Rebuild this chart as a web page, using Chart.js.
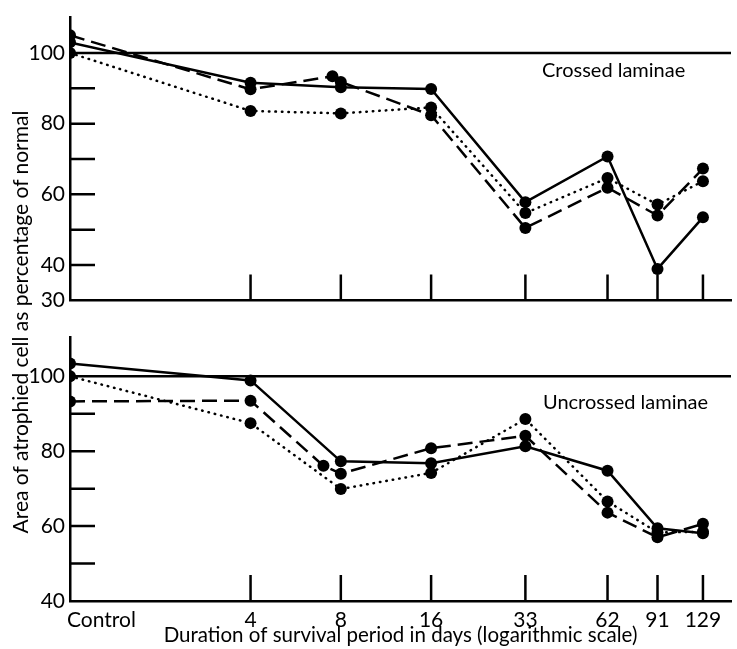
<!DOCTYPE html>
<html>
<head>
<meta charset="utf-8">
<script src="https://cdn.jsdelivr.net/npm/chart.js@4.4.1/dist/chart.umd.min.js"></script>
<style>
  body { margin: 0; background: #fff; }
  #wrap { position: relative; width: 737px; height: 649px; font-family: Lato, sans-serif; color: #000; }
  canvas { position: absolute; left: 0; }
  #topChart { top: 0; }
  #bottomChart { top: 318px; }
  .yTitle {
    position: absolute; left: -230px; top: 310px; width: 500px; line-height: 24px;
    text-align: center; font-size: 21px; transform: rotate(-90deg);
  }
  .panel { position: absolute; font-size: 20px; line-height: 24px; }
</style>
</head>
<body>
<div id="wrap">
  <canvas id="topChart" width="737" height="318"></canvas>
  <canvas id="bottomChart" width="737" height="331"></canvas>
  <div class="yTitle">Area of atrophied cell as percentage of normal</div>
  <div class="panel" style="left:542px; top:57px;">Crossed laminae</div>
  <div class="panel" style="left:543px; top:389px;">Uncrossed laminae</div>
</div>
<script>
// survival period in days, Control is put at day 1 on the log axis
const days = [1, 4, 8, 16, 33, 62, 91, 129];
const dayLabels = ['Control', '4', '8', '16', '33', '62', '91', '129'];

// crossed laminae (top)
const crossedSolid = [103, 91.6, 90.3, 89.8, 57.8, 70.7, 38.9, 53.5];
const crossedDashedDays = [1, 4, 7.5, 8, 16, 33, 62, 91, 129];
const crossedDashed = [105, 89.7, 93.4, 91.8, 82.4, 50.5, 61.9, 54.0, 67.3];
const crossedDotted = [100, 83.6, 82.9, 84.6, 54.7, 64.6, 57.1, 63.7];

// uncrossed laminae (bottom)
const uncrossedSolid = [103.4, 98.9, 77.3, 76.8, 81.3, 74.8, 59.4, 58.1];
const uncrossedDashedDays = [1, 4, 7, 8, 16, 33, 62, 91, 129];
const uncrossedDashed = [93.3, 93.5, 76.1, 74.0, 80.8, 84.1, 63.6, 57.0, 60.6];
const uncrossedDotted = [100, 87.5, 69.9, 74.2, 88.6, 66.6, 58.3, 58.5];

const FONT = 'Lato, sans-serif';

const pts = (xs, ys) => ys.map((v, i) => ({x: xs[i], y: v}));

function series(xs, ys, dash, cap) {
  return {
    data: pts(xs, ys),
    borderColor: '#000',
    borderWidth: 2.5,
    borderDash: dash,
    borderCapStyle: cap || 'butt',
    pointRadius: 6,
    pointBackgroundColor: '#000',
    pointBorderWidth: 0,
    tension: 0,
  };
}

// ticks drawn inside the frame, the 100% line and the day labels
const frame = {
  id: 'frame',
  beforeDatasetsDraw(chart, args, opts) {
    const {ctx, chartArea: a, scales: {x, y}} = chart;
    ctx.save();
    ctx.strokeStyle = '#000';
    ctx.lineWidth = 2.5;
    ctx.beginPath();
    const y100 = y.getPixelForValue(100);
    ctx.moveTo(a.left, y100);
    ctx.lineTo(a.right, y100);
    opts.yTicks.forEach(v => {
      const py = y.getPixelForValue(v);
      ctx.moveTo(a.left, py);
      ctx.lineTo(a.left + 25, py);
    });
    days.slice(1).forEach(d => {
      const px = x.getPixelForValue(d);
      ctx.moveTo(px, a.bottom);
      ctx.lineTo(px, a.bottom - 26);
    });
    ctx.stroke();
    if (opts.labels) {
      ctx.fillStyle = '#000';
      ctx.font = '21px ' + FONT;
      ctx.textBaseline = 'middle';
      days.forEach((d, i) => {
        if (i === 0) {
          ctx.textAlign = 'left';
          ctx.fillText(dayLabels[i], a.left - 3, a.bottom + 19);
        } else {
          ctx.textAlign = 'center';
          ctx.fillText(dayLabels[i], x.getPixelForValue(d), a.bottom + 19);
        }
      });
    }
    ctx.restore();
  }
};

function makeChart(id, sets, yMin, yMax, yLabels, yTicks, padTop, xHeight, withLabels) {
  return new Chart(document.getElementById(id), {
    type: 'line',
    data: {datasets: sets},
    plugins: [frame],
    options: {
      responsive: false,
      animation: false,
      layout: {padding: {top: padTop, left: 0, right: 0, bottom: 0}},
      plugins: {
        legend: {display: false},
        tooltip: {enabled: false},
        frame: {yTicks: yTicks, labels: withLabels},
      },
      scales: {
        x: {
          type: 'logarithmic',
          min: 1,
          max: 160,
          grid: {display: false},
          border: {color: '#000', width: 2.5},
          ticks: {display: false},
          title: {
            display: withLabels,
            text: 'Duration of survival period in days (logarithmic scale)',
            color: '#000',
            font: {family: FONT, size: 20.5},
            padding: {top: 0, bottom: 1},
          },
          afterFit: s => { s.height = xHeight; },
        },
        y: {
          min: yMin,
          max: yMax,
          grid: {display: false, drawTicks: false},
          border: {color: '#000', width: 2.5},
          ticks: {
            stepSize: 10,
            autoSkip: false,
            padding: 5,
            color: '#000',
            font: {family: FONT, size: 21},
            callback: v => yLabels.includes(v) ? String(v) : '',
          },
          afterFit: s => { s.width = 70; },
        },
      },
    },
  });
}

makeChart('topChart', [
  series(days, crossedSolid, []),
  series(crossedDashedDays, crossedDashed, [15, 7]),
  series(days, crossedDotted, [0.5, 6], 'round'),
], 30, 110, [100, 80, 60, 40, 30], [40, 50, 60, 70, 80, 90], 3, 16, false);

makeChart('bottomChart', [
  series(days, uncrossedSolid, []),
  series(uncrossedDashedDays, uncrossedDashed, [15, 7]),
  series(days, uncrossedDotted, [0.5, 6], 'round'),
], 40, 110.5, [100, 80, 60, 40], [50, 60, 70, 80, 90], 19, 48, true);
</script>
</body>
</html>
